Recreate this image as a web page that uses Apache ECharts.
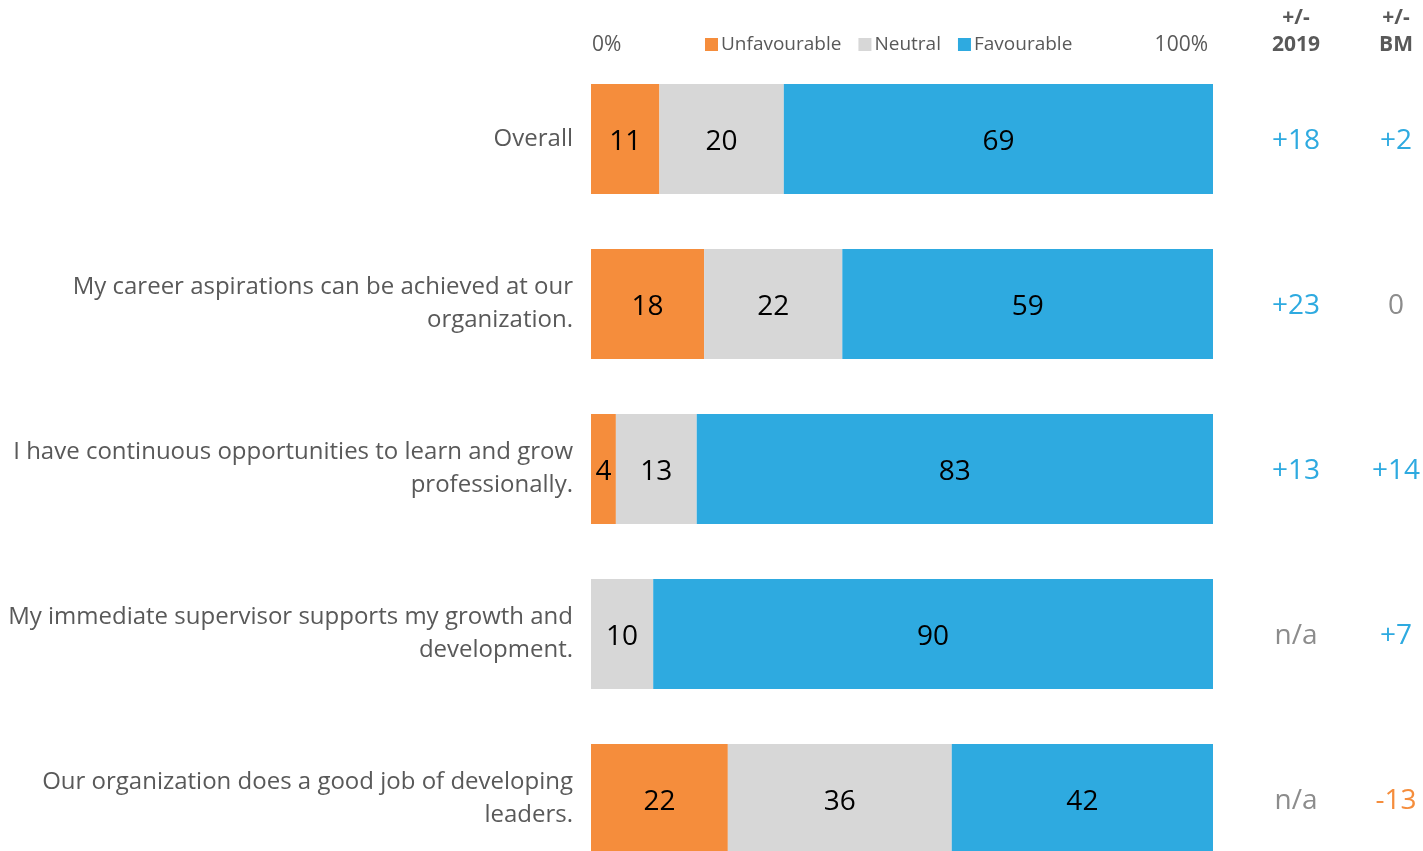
<!DOCTYPE html>
<html>
<head>
<meta charset="utf-8">
<script src="https://cdn.jsdelivr.net/npm/echarts@6/dist/echarts.min.js"></script>
<style>
html,body{margin:0;padding:0;background:#fff;}
#chart{width:1423px;height:851px;}
</style>
</head>
<body>
<div id="chart"></div>
<script>
const categories = [
  'Overall',
  'My career aspirations can be achieved at our\norganization.',
  'I have continuous opportunities to learn and grow\nprofessionally.',
  'My immediate supervisor supports my growth and\ndevelopment.',
  'Our organization does a good job of developing\nleaders.'
];
const unfavourable = [11, 18, 4, 0, 22];
const neutral = [20, 22, 13, 10, 36];
const favourable = [69, 59, 83, 90, 42];
const delta2019 = [18, 23, 13, null, null];
const deltaBM = [2, 0, 14, 7, -13];
const axisTicks = [0, 100];

const C_ORANGE = '#F58D3C', C_GREY = '#D7D7D7', C_BLUE = '#2EAAE0';
const TXT = '#595959';
const FONT = '"Open Sans", sans-serif';

const rowSum = categories.map((_, i) => unfavourable[i] + neutral[i] + favourable[i]);
function toData(arr) {
  return arr.map((v, i) => ({ value: v / rowSum[i] * 100, raw: v }));
}
function fmtDelta(v) {
  if (v === null || v === undefined) return '{g|n/a}';
  if (v > 0) return '{p|+' + v + '}';
  if (v < 0) return '{n|' + v + '}';
  return '{g|0}';
}
const deltaRich = {
  p: { color: C_BLUE, fontSize: 28, fontFamily: FONT, padding: [5, 0, 0, 0] },
  n: { color: C_ORANGE, fontSize: 28, fontFamily: FONT, padding: [5, 0, 0, 0] },
  g: { color: '#8C8C8C', fontSize: 28, fontFamily: FONT, padding: [5, 0, 0, 0] }
};

const barLabel = {
  show: true, position: 'inside', color: '#000', fontSize: 28, fontFamily: FONT, offset: [0, 3],
  formatter: p => (p.data.raw ? String(p.data.raw) : '')
};

function mkSeries(name, arr, color) {
  return {
    name, type: 'bar', stack: 'all', data: toData(arr),
    itemStyle: { color }, barCategoryGap: '33.33%',
    label: barLabel, emphasis: { disabled: true }
  };
}

const chart = echarts.init(document.getElementById('chart'), null, { renderer: 'canvas' });
chart.setOption({
  animation: false,
  backgroundColor: '#fff',
  textStyle: { fontFamily: FONT },
  grid: { left: 591, width: 622, top: 56.5, height: 825, containLabel: false, outerBoundsMode: 'none' },
  legend: {
    left: 705, top: 35, padding: 0, itemWidth: 13, itemHeight: 13, itemGap: 17,
    icon: 'rect',
    textStyle: { color: TXT, fontSize: 19, fontFamily: FONT, padding: [0, 0, 0, -2] },
    data: ['Unfavourable', 'Neutral', 'Favourable']
  },
  xAxis: {
    type: 'value', position: 'top', min: axisTicks[0], max: axisTicks[1], interval: axisTicks[1] - axisTicks[0],
    axisLine: { show: false }, axisTick: { show: false }, splitLine: { show: false },
    axisLabel: {
      formatter: '{value}%', color: TXT, fontSize: 21, fontFamily: FONT, margin: 1,
      alignMinLabel: 'left', alignMaxLabel: 'right', padding: [0, 5, 0, 1]
    }
  },
  yAxis: [
    {
      type: 'category', inverse: true, data: categories,
      axisLine: { show: false }, axisTick: { show: false },
      axisLabel: { color: TXT, fontSize: 24, fontFamily: FONT, margin: 18, lineHeight: 33, align: 'right' }
    },
    {
      type: 'category', inverse: true, data: categories, position: 'right', gridIndex: 0,
      axisLine: { show: false }, axisTick: { show: false },
      axisLabel: { margin: 83, align: 'center', formatter: (v, i) => fmtDelta(delta2019[i]), rich: deltaRich }
    },
    {
      type: 'category', inverse: true, data: categories, position: 'right', gridIndex: 0,
      axisLine: { show: false }, axisTick: { show: false },
      axisLabel: { margin: 183, align: 'center', formatter: (v, i) => fmtDelta(deltaBM[i]), rich: deltaRich }
    }
  ],
  graphic: [
    { type: 'text', x: 1296, y: 5, style: { text: '+/-\n2019', align: 'center', verticalAlign: 'top', fill: TXT, font: 'bold 21px "Open Sans", sans-serif', lineHeight: 27 } },
    { type: 'text', x: 1396, y: 5, style: { text: '+/-\nBM', align: 'center', verticalAlign: 'top', fill: TXT, font: 'bold 21px "Open Sans", sans-serif', lineHeight: 27 } }
  ],
  series: [
    mkSeries('Unfavourable', unfavourable, C_ORANGE),
    mkSeries('Neutral', neutral, C_GREY),
    mkSeries('Favourable', favourable, C_BLUE)
  ]
});
</script>
</body>
</html>
